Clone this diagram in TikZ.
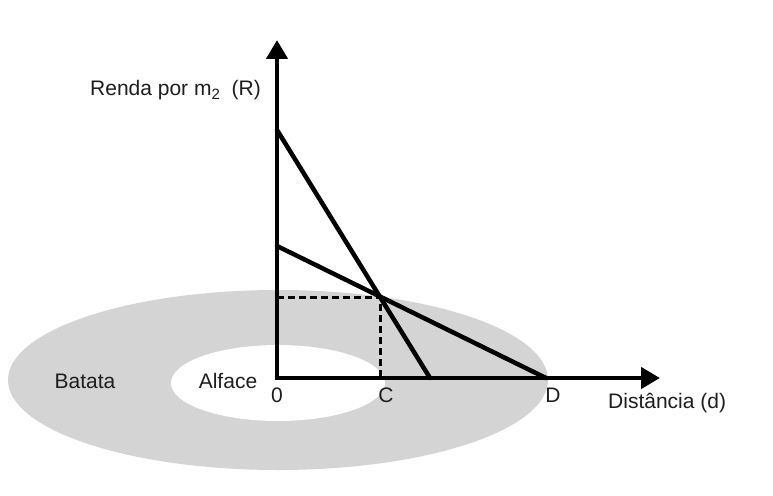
\documentclass[tikz,border=0pt]{standalone}
\usepackage{fontspec}
\setmainfont{Liberation Sans}
\usetikzlibrary{arrows.meta}
\definecolor{ringgray}{RGB}{212,212,212}
\definecolor{txt}{RGB}{30,30,30}
\begin{document}
\begin{tikzpicture}[x=1pt,y=-1pt,
  axis/.style={line width=4.5pt,-{Triangle[width=21pt,length=19pt]}},
  curve/.style={line width=4.5pt,line cap=round},
  guide/.style={line width=3pt,dash pattern=on 7pt off 4pt},
  lab/.style={font=\fontsize{21}{23}\selectfont,text=txt,inner sep=0pt}]
\useasboundingbox[fill=white] (0,0) rectangle (773,495);
% rings
\fill[ringgray] (278,380) ellipse [x radius=270,y radius=90];
\fill[white] (278,383) ellipse [x radius=107,y radius=38];
% coordinates
\coordinate (O) at (277,378);
\coordinate (ytip) at (277,40);
\coordinate (xtip) at (660,378);
\coordinate (A1) at (277,130);
\coordinate (A2) at (277,246);
\coordinate (B1) at (430,378);
\coordinate (D) at (546,378);
\coordinate (P) at (380,297);
\coordinate (Py) at (277,297);
\coordinate (C) at (380,378);
% guides
\draw[guide] (Py) -- (P) -- (C);
% lines
\draw[curve] (A1) -- (B1);
\draw[curve] (A2) -- (D);
% axes
\draw[axis] ([yshift=2.25pt]O) -- (ytip);
\draw[axis] ([xshift=-2.25pt]O) -- (xtip);
% labels
\node[lab,anchor=base west] (ylab) at (90,95) {Renda por m\raisebox{-0.45ex}{\fontsize{15}{17}\selectfont 2}\ \ (R)};
\node[lab,anchor=base west] (xlab) at (608,408) {Distância (d)};
\node[lab,anchor=base] (batata) at (85,388) {Batata};
\node[lab,anchor=base] (alface) at (228,388) {Alface};
\node[lab,anchor=base] (l0) at (277,402) {0};
\node[lab,anchor=base] (lC) at (386,402) {C};
\node[lab,anchor=base] (lD) at (553,402) {D};
\end{tikzpicture}
\end{document}
